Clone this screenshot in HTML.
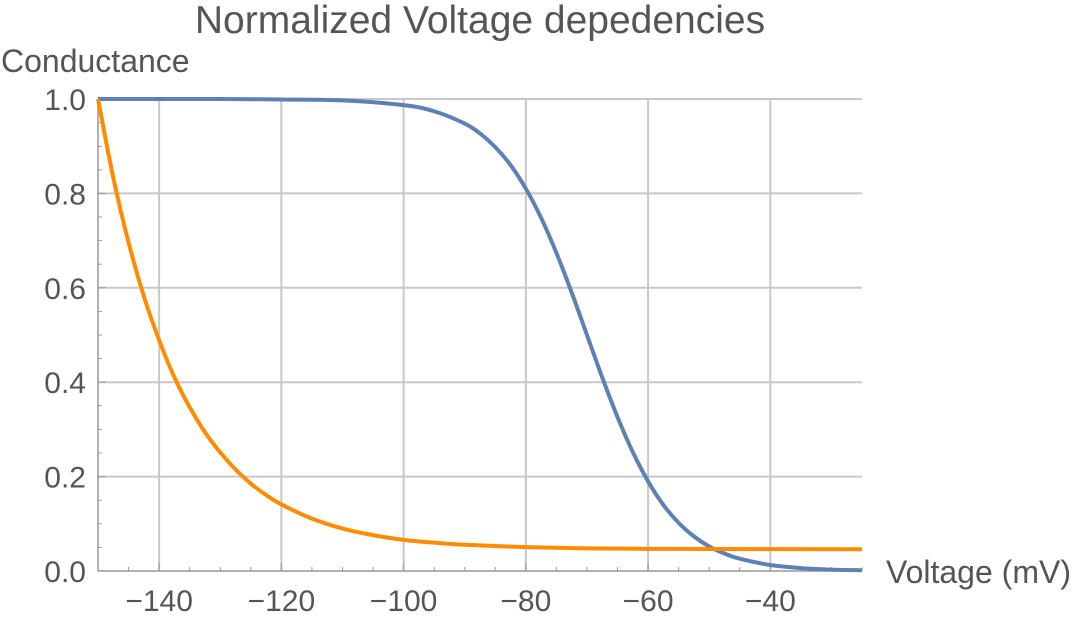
<!DOCTYPE html>
<html><head><meta charset="utf-8"><style>
body{margin:0;background:#fff;}
svg text{font-family:"Liberation Sans",sans-serif;fill:#555;}
</style></head><body>
<svg id="chart" width="1080" height="618">
<text x="480" y="33" font-size="39" text-anchor="middle">Normalized Voltage depedencies</text>
<text x="1" y="72" font-size="32">Conductance</text>
<text x="886" y="583" font-size="32">Voltage (mV)</text>
<g id="grid"></g><g id="axes"></g><g id="series"></g>
</svg>
<script>
const xTicks=[-140,-120,-100,-80,-60,-40];
const yTicks=[0,0.2,0.4,0.6,0.8,1.0];
const yTickLabels=["0.0","0.2","0.4","0.6","0.8","1.0"];
const blueV=[-150,-130,-120,-110,-100,-95,-90,-87.5,-85,-82.5,-80,-77.5,-75,-72.5,-70,-67.5,-65,-62.5,-60,-57.5,-55,-52.5,-50,-47.5,-45,-40,-35,-30,-25];
const blueG=[1,1,0.999,0.997,0.987,0.974,0.948,0.927,0.898,0.86,0.81,0.748,0.674,0.59,0.5,0.41,0.326,0.252,0.19,0.14,0.102,0.0734,0.052,0.037,0.026,0.0127,0.0062,0.003,0.0015];
const orangeV=[-150,-147.5,-145,-142.5,-140,-137.5,-135,-132.5,-130,-127.5,-125,-122.5,-120,-115,-110,-105,-100,-95,-90,-80,-70,-60,-50,-25];
const orangeG=[1,0.833,0.696,0.582,0.489,0.41,0.347,0.294,0.251,0.215,0.185,0.161,0.141,0.111,0.09,0.076,0.066,0.06,0.0555,0.0506,0.048,0.047,0.0465,0.046];
const X0=98,X1=862,V0=-150,V1=-25,Y0=571,Y1=99;
const sx=v=>X0+(v-V0)*(X1-X0)/(V1-V0);
const sy=g=>Y0-g*(Y0-Y1);
const NS="http://www.w3.org/2000/svg";
const grid=document.getElementById('grid'),axes=document.getElementById('axes'),series=document.getElementById('series');
function mk(tag,attrs,parent){const e=document.createElementNS(NS,tag);for(const k in attrs)e.setAttribute(k,attrs[k]);parent.appendChild(e);return e;}
xTicks.forEach(v=>{
 const l=mk('line',{x1:sx(v),x2:sx(v),y1:Y1,y2:Y0,stroke:'#c8c8c8','stroke-width':2},grid);
 
 
 const t=mk('text',{x:sx(v),y:611,'font-size':30,'text-anchor':'middle'},axes);
 t.textContent='\u2212'+Math.abs(v);
 
 
});
yTicks.forEach((g,i)=>{
 if(g>0){const l=mk('line',{x1:X0,x2:X1,y1:sy(g),y2:sy(g),stroke:'#c8c8c8','stroke-width':2},grid);
 
 }
 const t=mk('text',{x:86,y:sy(g)+11,'font-size':30,'text-anchor':'end'},axes);
 t.textContent=yTickLabels[i];
 
 
});
for(let v=-150;v<=-25;v+=5){const big=v%20===0;mk('line',{x1:sx(v),x2:sx(v),y1:Y0,y2:Y0-(big?8:4),stroke:'#999','stroke-width':1},axes);}
for(let g=0;g<=1.0001;g+=0.05){mk('line',{x1:X0,x2:X0+(Math.round(g*20)%4===0?8:4),y1:sy(g),y2:sy(g),stroke:'#999','stroke-width':1},axes);}
const ax=mk('line',{x1:X0,x2:X1,y1:Y0,y2:Y0,stroke:'#999','stroke-width':1.5},axes);

const ay=mk('line',{x1:X0,x2:X0,y1:Y0,y2:Y1,stroke:'#999','stroke-width':1.5},axes);

function path(vs,gs){const p=vs.map((v,i)=>[sx(v),sy(gs[i])]);let d='M'+p[0][0]+','+p[0][1];
 for(let i=0;i<p.length-1;i++){const a=p[Math.max(0,i-1)],b=p[i],c=p[i+1],e=p[Math.min(p.length-1,i+2)];
 d+=' C'+(b[0]+(c[0]-a[0])/6)+','+(b[1]+(c[1]-a[1])/6)+' '+(c[0]-(e[0]-b[0])/6)+','+(c[1]-(e[1]-b[1])/6)+' '+c[0]+','+c[1];}
 return d;}
const pb=mk('path',{d:path(blueV,blueG),fill:'none',stroke:'#5e81b5','stroke-width':4},series);

const po=mk('path',{d:path(orangeV,orangeG),fill:'none',stroke:'#ff8c00','stroke-width':4},series);

</script>
</body></html>
